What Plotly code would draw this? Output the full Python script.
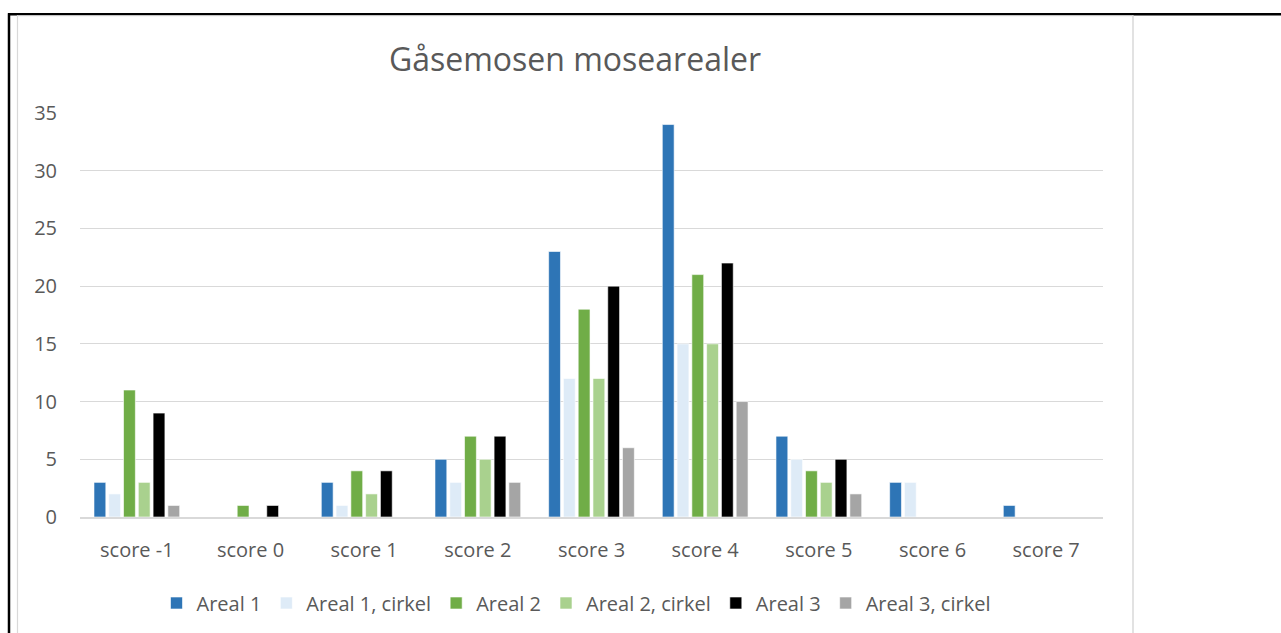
import plotly.graph_objects as go

categories = ["score -1", "score 0", "score 1", "score 2", "score 3", "score 4", "score 5", "score 6", "score 7"]
series_names = ["Areal 1", "Areal 1, cirkel", "Areal 2", "Areal 2, cirkel", "Areal 3", "Areal 3, cirkel"]
areal1 = [3, 0, 3, 5, 23, 34, 7, 3, 1]
areal1_cirkel = [2, 0, 1, 3, 12, 15, 5, 3, 0]
areal2 = [11, 1, 4, 7, 18, 21, 4, 0, 0]
areal2_cirkel = [3, 0, 2, 5, 12, 15, 3, 0, 0]
areal3 = [9, 1, 4, 7, 20, 22, 5, 0, 0]
areal3_cirkel = [1, 0, 0, 3, 6, 10, 2, 0, 0]
colors = ["#2E75B6", "#DEEBF7", "#70AD47", "#A9D18E", "#000000", "#A5A5A5"]
y_ticks = [0, 5, 10, 15, 20, 25, 30, 35]

values = [areal1, areal1_cirkel, areal2, areal2_cirkel, areal3, areal3_cirkel]

fig = go.Figure()
for name, vals, col in zip(series_names, values, colors):
    fig.add_trace(go.Bar(
        x=categories, y=vals, name=name,
        marker=dict(color=col, line=dict(color="white", width=0.6)),
    ))

W, H = 1281, 633
L, R, T, B = 80, 1103, 113, 518

def px(x):
    return (x - L) / (R - L)

def py(y):
    return (B - y) / (B - T)

shapes = [
    # outer black table border
    dict(type="line", xref="paper", yref="paper", x0=px(8), x1=px(1281), y0=py(14), y1=py(14),
         line=dict(color="black", width=2.5)),
    dict(type="line", xref="paper", yref="paper", x0=px(9), x1=px(9), y0=py(13), y1=py(640),
         line=dict(color="black", width=2.5)),
    # chart frame (light gray)
    dict(type="line", xref="paper", yref="paper", x0=px(17), x1=px(1133), y0=py(15.5), y1=py(15.5),
         line=dict(color="#D9D9D9", width=1)),
    dict(type="line", xref="paper", yref="paper", x0=px(17.5), x1=px(17.5), y0=py(15), y1=py(640),
         line=dict(color="#D9D9D9", width=1.2)),
    dict(type="line", xref="paper", yref="paper", x0=px(1133), x1=px(1133), y0=py(15), y1=py(640),
         line=dict(color="#D9D9D9", width=1.5)),
]

fig.update_layout(
    width=W, height=H,
    margin=dict(l=L, r=W - R, t=T, b=H - B, pad=0),
    paper_bgcolor="white", plot_bgcolor="white",
    barmode="group", bargap=0.22, bargroupgap=0.2,
    title=dict(text="Gåsemosen mosearealer", xref="container", x=575 / W, xanchor="center",
               yref="container", y=1 - 60 / H, yanchor="middle",
               font=dict(family="Open Sans", size=32, color="#595959")),
    font=dict(family="Open Sans", color="#595959", size=20),
    legend=dict(orientation="h", x=px(576), xanchor="center", y=py(603), yanchor="middle",
                font=dict(family="Open Sans", size=20, color="#595959"),
                itemwidth=30, traceorder="normal"),
    shapes=shapes,
    xaxis=dict(showgrid=False, showline=True, linecolor="#D9D9D9", linewidth=1.5,
               ticks="", tickfont=dict(size=20, color="#595959"), ticklabelstandoff=14,
               range=[-0.5, 8.5]),
    yaxis=dict(range=[0, 35], tickvals=y_ticks, showgrid=True, gridcolor="#D9D9D9", gridwidth=1.2,
               zeroline=False, showline=False, ticks="",
               tickfont=dict(size=20, color="#595959"), ticklabelstandoff=22),
)

fig.write_html("out.html", config={"displayModeBar": False},
               post_script="document.body.style.margin='0';document.body.style.overflow='hidden';")
